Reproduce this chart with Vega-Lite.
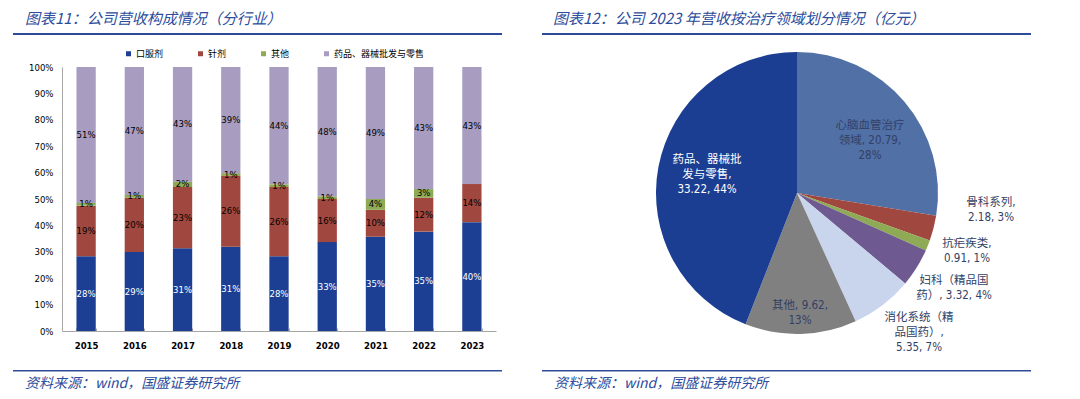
{
  "$schema": "https://vega.github.io/schema/vega-lite/v6.json",
  "background": "white",
  "padding": {"left": 13, "top": 12, "right": 0, "bottom": 0},
  "autosize": {"type": "pad"},
  "spacing": 40,
  "resolve": {"scale": {"color": "independent", "theta": "independent"}, "legend": {"color": "independent"}},
  "config": {
    "view": {"stroke": null},
    "title": {"font": "Noto Sans CJK SC", "fontStyle": "italic", "fontWeight": "normal", "color": "#2C4C9C", "anchor": "start", "frame": "group"}
  },
  "hconcat": [
    {
      "columns": 1,
      "align": "none",
      "spacing": 10,
      "resolve": {"legend": {"color": "independent"}},
      "concat": [
        {
          "width": 489, "height": 2,
          "view": {"fill": "#2E4B9B", "stroke": null},
          "title": {"text": "图表11：公司营收构成情况（分行业）", "fontSize": 15, "dx": 12, "offset": 1},
          "data": {"values": [{}]},
          "mark": {"type": "text"},
          "encoding": {"text": {"value": ""}}
        },
        {
          "columns": 1,
          "align": "none",
          "spacing": 4,
          "resolve": {"legend": {"color": "independent"}},
          "concat": [
            {
              "width": 483, "height": 264,
              "data": {"values": [
                {"y": "2015", "c": "口服剂", "v": 0.28, "o": 1},
                {"y": "2015", "c": "针剂", "v": 0.19, "o": 2},
                {"y": "2015", "c": "其他", "v": 0.01, "o": 3},
                {"y": "2015", "c": "药品、器械批发与零售", "v": 0.51, "o": 4},
                {"y": "2016", "c": "口服剂", "v": 0.29, "o": 1},
                {"y": "2016", "c": "针剂", "v": 0.20, "o": 2},
                {"y": "2016", "c": "其他", "v": 0.01, "o": 3},
                {"y": "2016", "c": "药品、器械批发与零售", "v": 0.47, "o": 4},
                {"y": "2017", "c": "口服剂", "v": 0.31, "o": 1},
                {"y": "2017", "c": "针剂", "v": 0.23, "o": 2},
                {"y": "2017", "c": "其他", "v": 0.02, "o": 3},
                {"y": "2017", "c": "药品、器械批发与零售", "v": 0.43, "o": 4},
                {"y": "2018", "c": "口服剂", "v": 0.31, "o": 1},
                {"y": "2018", "c": "针剂", "v": 0.26, "o": 2},
                {"y": "2018", "c": "其他", "v": 0.01, "o": 3},
                {"y": "2018", "c": "药品、器械批发与零售", "v": 0.39, "o": 4},
                {"y": "2019", "c": "口服剂", "v": 0.28, "o": 1},
                {"y": "2019", "c": "针剂", "v": 0.26, "o": 2},
                {"y": "2019", "c": "其他", "v": 0.01, "o": 3},
                {"y": "2019", "c": "药品、器械批发与零售", "v": 0.44, "o": 4},
                {"y": "2020", "c": "口服剂", "v": 0.33, "o": 1},
                {"y": "2020", "c": "针剂", "v": 0.16, "o": 2},
                {"y": "2020", "c": "其他", "v": 0.01, "o": 3},
                {"y": "2020", "c": "药品、器械批发与零售", "v": 0.48, "o": 4},
                {"y": "2021", "c": "口服剂", "v": 0.35, "o": 1},
                {"y": "2021", "c": "针剂", "v": 0.10, "o": 2},
                {"y": "2021", "c": "其他", "v": 0.04, "o": 3},
                {"y": "2021", "c": "药品、器械批发与零售", "v": 0.49, "o": 4},
                {"y": "2022", "c": "口服剂", "v": 0.35, "o": 1},
                {"y": "2022", "c": "针剂", "v": 0.12, "o": 2},
                {"y": "2022", "c": "其他", "v": 0.03, "o": 3},
                {"y": "2022", "c": "药品、器械批发与零售", "v": 0.43, "o": 4},
                {"y": "2023", "c": "口服剂", "v": 0.40, "o": 1},
                {"y": "2023", "c": "针剂", "v": 0.14, "o": 2},
                {"y": "2023", "c": "药品、器械批发与零售", "v": 0.43, "o": 4}
              ]},
              "encoding": {
                "x": {"field": "y", "type": "nominal", "title": null,
                  "scale": {"paddingInner": 0.6, "paddingOuter": 0.3, "range": [49, 483]},
                  "axis": {"labelAngle": 0, "labelFont": "DejaVu Sans Condensed, DejaVu Sans", "labelFontSize": 9.5, "labelFontWeight": "bold", "labelColor": "#000000", "labelPadding": 12, "domainColor": "#A6A6A6", "tickColor": "#A6A6A6", "tickSize": -3, "tickBand": "extent", "minExtent": 29, "grid": false}},
                "y": {"field": "v", "type": "quantitative", "stack": "normalize", "title": null,
                  "axis": {"values": [0, 0.1, 0.2, 0.3, 0.4, 0.5, 0.6, 0.7, 0.8, 0.9, 1], "format": ".0%", "offset": -49, "labelFont": "DejaVu Sans Condensed, DejaVu Sans", "labelFontSize": 9.5, "labelColor": "#000000", "labelPadding": 9, "ticks": false, "domainColor": "#A6A6A6", "grid": false}},
                "order": {"field": "o", "type": "quantitative"}
              },
              "layer": [
                {
                  "mark": {"type": "bar"},
                  "encoding": {
                    "color": {"field": "c", "type": "nominal",
                      "sort": ["口服剂", "针剂", "其他", "药品、器械批发与零售"],
                      "scale": {"domain": ["口服剂", "针剂", "其他", "药品、器械批发与零售"], "range": ["#1C3F94", "#A0483F", "#8FAA54", "#A89DC1"]},
                      "legend": {"orient": "none", "legendX": 111, "legendY": -18, "direction": "horizontal", "title": null, "symbolType": "square", "symbolSize": 25, "symbolStrokeWidth": 0, "labelFont": "Noto Sans CJK SC", "labelFontSize": 9, "labelColor": "#000000", "labelOffset": 3, "columnPadding": 32, "padding": 0}}
                  }
                },
                {
                  "mark": {"type": "text", "font": "DejaVu Sans Condensed, DejaVu Sans", "fontSize": 9.5, "baseline": "middle"},
                  "encoding": {
                    "y": {"field": "v", "type": "quantitative", "stack": "normalize", "bandPosition": 0.5},
                    "detail": {"field": "c"},
                    "text": {"field": "v", "type": "quantitative", "format": ".0%"},
                    "color": {"condition": {"test": "datum.c === '口服剂'", "value": "#FFFFFF"}, "value": "#000000"}
                  }
                }
              ]
            },
            {
              "width": 489, "height": 1.5,
              "view": {"fill": "#2E4B9B", "stroke": null},
              "title": {"text": "资料来源：wind，国盛证券研究所", "orient": "bottom", "fontSize": 14, "dx": 12, "offset": 1},
              "data": {"values": [{}]},
              "mark": {"type": "text"},
              "encoding": {"text": {"value": ""}}
            }
          ]
        }
      ]
    },
    {
      "columns": 1,
      "align": "none",
      "spacing": 9,
      "concat": [
        {
          "width": 489, "height": 2,
          "view": {"fill": "#2E4B9B", "stroke": null},
          "title": {"text": "图表12：公司 2023 年营收按治疗领域划分情况（亿元）", "fontSize": 15, "dx": 11, "offset": 1},
          "data": {"values": [{}]},
          "mark": {"type": "text"},
          "encoding": {"text": {"value": ""}}
        },
        {
          "columns": 1,
          "align": "none",
          "spacing": 10,
          "concat": [
            {
              "width": 510, "height": 290,
              "data": {"values": [
                {"name": "心脑血管治疗领域", "v": 20.79, "o": 1, "label": "心脑血管治疗\n领域, 20.79,\n28%"},
                {"name": "骨科系列", "v": 2.18, "o": 2, "label": "骨科系列,\n2.18, 3%"},
                {"name": "抗疟疾类", "v": 0.91, "o": 3, "label": "抗疟疾类,\n0.91, 1%"},
                {"name": "妇科（精品国药）", "v": 3.32, "o": 4, "label": "妇科（精品国\n药）, 3.32, 4%"},
                {"name": "消化系统（精品国药）", "v": 5.35, "o": 5, "label": "消化系统（精\n品国药）,\n5.35, 7%"},
                {"name": "其他", "v": 9.62, "o": 6, "label": "其他, 9.62,\n13%"},
                {"name": "药品、器械批发与零售", "v": 33.22, "o": 7, "label": "药品、器械批\n发与零售,\n33.22, 44%"}
              ]},
              "transform": [
                {"stack": "v", "groupby": [], "sort": [{"field": "o", "order": "ascending"}], "as": ["t0", "t1"]}
              ],
              "layer": [
                {
                  "mark": {"type": "arc", "outerRadius": 141},
                  "encoding": {
                    "theta": {"field": "t0", "type": "quantitative", "stack": null},
                    "theta2": {"field": "t1"},
                    "color": {"field": "name", "type": "nominal",
                      "scale": {"domain": ["心脑血管治疗领域", "骨科系列", "抗疟疾类", "妇科（精品国药）", "消化系统（精品国药）", "其他", "药品、器械批发与零售"],
                        "range": ["#5070A6", "#A0483F", "#8FAA54", "#6E5A90", "#C8D5EC", "#808080", "#1B3E93"]},
                      "legend": null}
                  }
                },
                {
                  "transform": [{"filter": "datum.name === '心脑血管治疗领域'"}],
                  "mark": {"type": "text", "radius": 52, "dx": 73, "dy": -15, "font": "DejaVu Sans Condensed, Noto Sans CJK SC", "fontSize": 11.5, "lineHeight": 15, "lineBreak": "\n", "color": "#334166", "align": "center", "baseline": "middle"},
                  "encoding": {"theta": {"field": "t0", "type": "quantitative", "stack": null}, "text": {"field": "label", "type": "nominal"}}
                },
                {
                  "transform": [{"filter": "datum.name === '骨科系列'"}],
                  "mark": {"type": "text", "radius": 194, "dx": 2.5, "dy": -20.8, "font": "DejaVu Sans Condensed, Noto Sans CJK SC", "fontSize": 11.5, "lineHeight": 15, "lineBreak": "\n", "color": "#334166", "align": "center", "baseline": "middle"},
                  "encoding": {"theta": {"field": "t0", "type": "quantitative", "stack": null}, "text": {"field": "label", "type": "nominal"}}
                },
                {
                  "transform": [{"filter": "datum.name === '抗疟疾类'"}],
                  "mark": {"type": "text", "radius": 180, "dx": 0.5, "dy": -9.7, "font": "DejaVu Sans Condensed, Noto Sans CJK SC", "fontSize": 11.5, "lineHeight": 15, "lineBreak": "\n", "color": "#334166", "align": "center", "baseline": "middle"},
                  "encoding": {"theta": {"field": "t0", "type": "quantitative", "stack": null}, "text": {"field": "label", "type": "nominal"}}
                },
                {
                  "transform": [{"filter": "datum.name === '妇科（精品国药）'"}],
                  "mark": {"type": "text", "radius": 182, "dx": -9.2, "dy": 13.4, "font": "DejaVu Sans Condensed, Noto Sans CJK SC", "fontSize": 11.5, "lineHeight": 15, "lineBreak": "\n", "color": "#334166", "align": "center", "baseline": "middle"},
                  "encoding": {"theta": {"field": "t0", "type": "quantitative", "stack": null}, "text": {"field": "label", "type": "nominal"}}
                },
                {
                  "transform": [{"filter": "datum.name === '消化系统（精品国药）'"}],
                  "mark": {"type": "text", "radius": 183, "dx": -18.4, "dy": 7.7, "font": "DejaVu Sans Condensed, Noto Sans CJK SC", "fontSize": 11.5, "lineHeight": 15, "lineBreak": "\n", "color": "#334166", "align": "center", "baseline": "middle"},
                  "encoding": {"theta": {"field": "t0", "type": "quantitative", "stack": null}, "text": {"field": "label", "type": "nominal"}}
                },
                {
                  "transform": [{"filter": "datum.name === '其他'"}],
                  "mark": {"type": "text", "radius": 110, "dx": -42.7, "dy": 12.5, "font": "DejaVu Sans Condensed, Noto Sans CJK SC", "fontSize": 11.5, "lineHeight": 15, "lineBreak": "\n", "color": "#334166", "align": "center", "baseline": "middle"},
                  "encoding": {"theta": {"field": "t0", "type": "quantitative", "stack": null}, "text": {"field": "label", "type": "nominal"}}
                },
                {
                  "transform": [{"filter": "datum.name === '药品、器械批发与零售'"}],
                  "mark": {"type": "text", "radius": 18, "dx": -90, "dy": -15, "font": "DejaVu Sans Condensed, Noto Sans CJK SC", "fontSize": 11.5, "lineHeight": 15, "lineBreak": "\n", "color": "#FFFFFF", "align": "center", "baseline": "middle"},
                  "encoding": {"theta": {"field": "t1", "type": "quantitative", "stack": null}, "text": {"field": "label", "type": "nominal"}}
                }
              ]
            },
            {
              "width": 489, "height": 1.5,
              "view": {"fill": "#2E4B9B", "stroke": null},
              "title": {"text": "资料来源：wind，国盛证券研究所", "orient": "bottom", "fontSize": 14, "dx": 12, "offset": 1},
              "data": {"values": [{}]},
              "mark": {"type": "text"},
              "encoding": {"text": {"value": ""}}
            }
          ]
        }
      ]
    }
  ]
}
